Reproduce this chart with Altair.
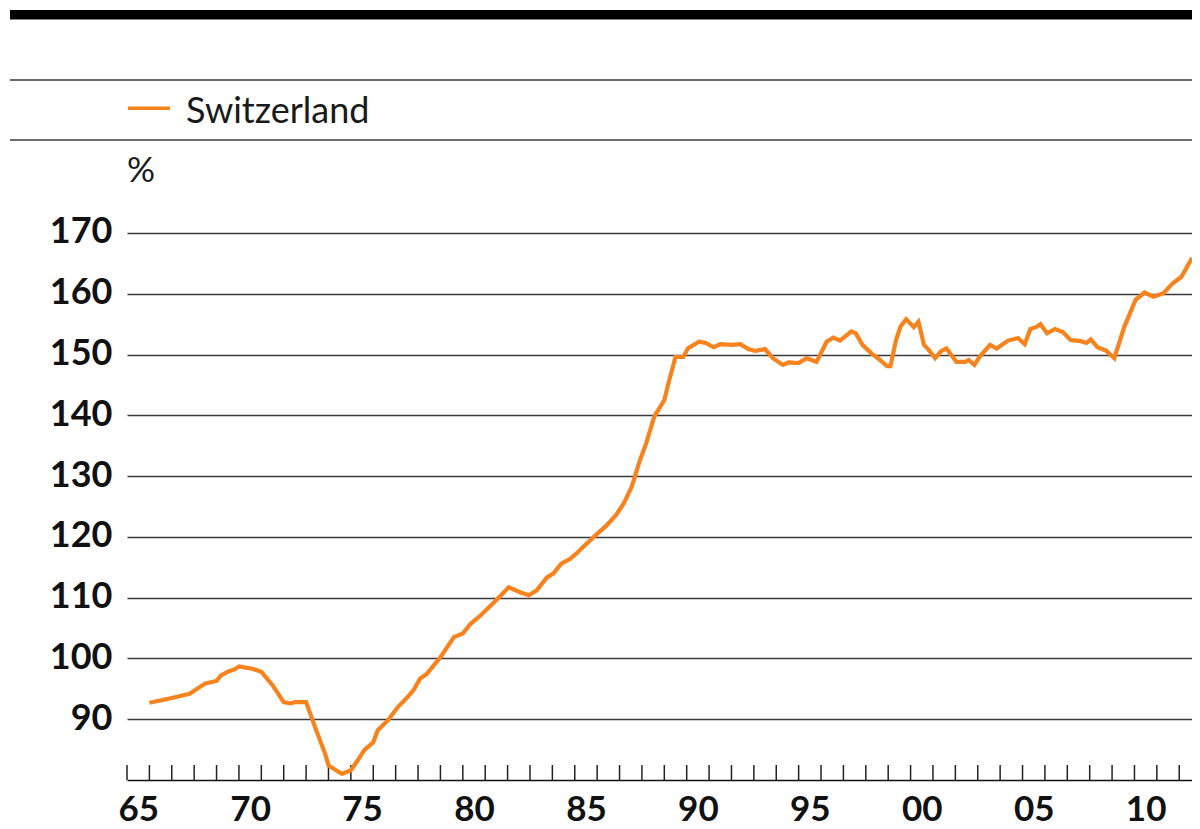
import altair as alt
import pandas as pd

# ---- data ----
years = [1966.0, 1967.0, 1967.8, 1968.0, 1968.5, 1969.0, 1969.2, 1969.55, 1969.8, 1970.0,
         1970.6, 1971.0, 1971.5, 1972.0, 1972.3, 1972.5, 1973.0, 1973.4, 1973.85, 1974.0,
         1974.6, 1975.0, 1975.3, 1975.6, 1976.0, 1976.2, 1976.65, 1977.1, 1977.5, 1977.8,
         1978.1, 1978.4, 1979.0, 1979.6, 1980.0, 1980.35, 1980.8, 1981.25, 1981.6, 1982.05,
         1982.55, 1982.95, 1983.3, 1983.75, 1984.05, 1984.4, 1984.8, 1985.05, 1985.5, 1986.0,
         1986.4, 1986.85, 1987.2, 1987.55, 1987.9, 1988.2, 1988.55, 1989.0, 1989.2, 1989.5,
         1989.85, 1990.05, 1990.55, 1990.85, 1991.2, 1991.5, 1992.0, 1992.4, 1992.75, 1993.05,
         1993.5, 1993.85, 1994.3, 1994.55, 1995.0, 1995.35, 1995.8, 1996.25, 1996.55, 1996.85,
         1997.35, 1997.55, 1997.85, 1998.25, 1998.6, 1998.95, 1999.1, 1999.35, 1999.55, 1999.8,
         2000.15, 2000.35, 2000.6, 2000.8, 2001.1, 2001.35, 2001.6, 2002.05, 2002.45, 2002.6,
         2002.85, 2003.1, 2003.55, 2003.85, 2004.35, 2004.8, 2005.1, 2005.35, 2005.6, 2005.8,
         2006.1, 2006.45, 2006.8, 2007.15, 2007.6, 2007.85, 2008.05, 2008.35, 2008.75, 2009.1,
         2009.55, 2010.05, 2010.45, 2010.85, 2011.3, 2011.7, 2012.1, 2012.57]
values = [92.7, 93.5, 94.2, 94.7, 95.9, 96.3, 97.2, 97.9, 98.2, 98.7,
          98.3, 97.8, 95.6, 92.8, 92.6, 92.8, 92.8, 88.7, 84.3, 82.4,
          81.0, 81.6, 83.2, 84.9, 86.2, 88.2, 89.8, 92.0, 93.5, 94.8,
          96.7, 97.5, 100.2, 103.5, 104.1, 105.7, 107.1, 108.7, 110.0, 111.7,
          110.9, 110.4, 111.2, 113.3, 114.0, 115.6, 116.4, 117.2, 118.8, 120.5,
          121.8, 123.6, 125.6, 128.3, 132.5, 135.5, 139.8, 142.5, 145.5, 149.6,
          149.6, 151.0, 152.1, 151.9, 151.2, 151.7, 151.6, 151.7, 150.9, 150.6,
          150.9, 149.4, 148.3, 148.7, 148.6, 149.4, 148.8, 152.1, 152.8, 152.3,
          153.8, 153.5, 151.6, 150.2, 149.2, 148.1, 148.1, 152.4, 154.6, 155.8,
          154.5, 155.4, 151.6, 150.8, 149.4, 150.5, 151.0, 148.8, 148.8, 149.1,
          148.3, 149.7, 151.6, 151.0, 152.3, 152.7, 151.7, 154.2, 154.5, 155.0,
          153.5, 154.2, 153.7, 152.4, 152.2, 151.9, 152.5, 151.2, 150.6, 149.4,
          154.6, 159.0, 160.2, 159.5, 160.1, 161.7, 162.8, 165.9]
series_name = "Switzerland"
unit_label = "%"
tick_years = list(range(1965, 2013))
label_years = [1965, 1970, 1975, 1980, 1985, 1990, 1995, 2000, 2005, 2010]
y_ticks = [90, 100, 110, 120, 130, 140, 150, 160, 170]

ORANGE = "#f7831e"
GRID = "#3a3a3a"
FONT = "Lato"

W, H = 1065, 772
x_scale = alt.Scale(domain=[1965, 2012.57], nice=False, zero=False)
y_scale = alt.Scale(domain=[80, 207.02], nice=False, zero=False)

df = pd.DataFrame({"year": years, "value": values})
ticks_df = pd.DataFrame({"year": tick_years})
one = pd.DataFrame({"k": [0]})

line = alt.Chart(df).mark_line(color=ORANGE, strokeWidth=4.2, clip=True).encode(
    x=alt.X("year:Q", scale=x_scale,
            axis=alt.Axis(values=[y + 0.5 for y in label_years],
                          labelExpr="slice(toString(100 + floor(datum.value) % 100), 1)",
                          title=None, grid=False, ticks=False, tickSize=0,
                          domain=True, domainColor="#111111", domainWidth=1.5,
                          labelFont=FONT, labelFontWeight="bold", labelFontSize=35,
                          labelColor="#111111", labelPadding=40,
                          labelBaseline="alphabetic", labelFlush=False)),
    y=alt.Y("value:Q", scale=y_scale,
            axis=alt.Axis(values=y_ticks, title=None, grid=True, gridColor=GRID,
                          gridWidth=1.5, domain=False, ticks=False, tickSize=0,
                          labelFont=FONT, labelFontWeight="bold", labelFontSize=36,
                          labelColor="#111111", labelPadding=15,
                          labelBaseline="alphabetic", labelOffset=10)),
)

year_ticks = alt.Chart(ticks_df).mark_rule(color="#222222", strokeWidth=1.5).encode(
    x=alt.X("year:Q", scale=x_scale),
    y=alt.value(757),
    y2=alt.value(772),
)

top_bar = alt.Chart(one).mark_rule(color="#000000", strokeWidth=9.5).encode(
    x=alt.value(-117), x2=alt.value(W), y=alt.value(6.7))
rule1 = alt.Chart(one).mark_rule(color=GRID, strokeWidth=1.5).encode(
    x=alt.value(-117), x2=alt.value(W), y=alt.value(72))
rule2 = alt.Chart(one).mark_rule(color=GRID, strokeWidth=1.5).encode(
    x=alt.value(-117), x2=alt.value(W), y=alt.value(132))
swatch = alt.Chart(one).mark_rule(color=ORANGE, strokeWidth=3.5).encode(
    x=alt.value(1), x2=alt.value(43), y=alt.value(100.3))
legend_text = alt.Chart(one).mark_text(
    text=series_name, font=FONT, fontSize=36, color="#1a1a1a",
    align="left", baseline="alphabetic").encode(x=alt.value(59), y=alt.value(114.5))
unit_text = alt.Chart(one).mark_text(
    text=unit_label, font=FONT, fontSize=35, color="#1a1a1a",
    align="left", baseline="alphabetic").encode(x=alt.value(0), y=alt.value(174))

chart = alt.layer(
    top_bar, rule1, rule2, swatch, legend_text, unit_text, year_ticks, line
).properties(
    width=W, height=H,
    autosize=alt.AutoSizeParams(type="none"),
    padding={"left": 119, "top": 0, "right": 0, "bottom": 49},
    background="white",
).configure_view(stroke=None)

chart.save("out.html", embed_options={"renderer": "svg", "actions": False})
